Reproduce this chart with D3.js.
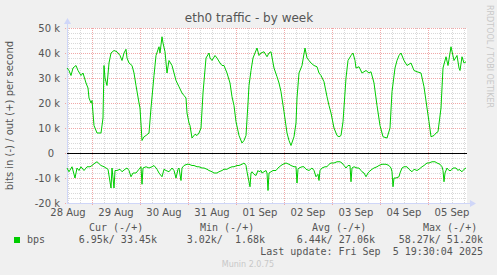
<!DOCTYPE html>
<html>
<head>
<meta charset="utf-8">
<script src="https://cdn.jsdelivr.net/npm/d3@7"></script>
<style>
  body { margin: 0; background: #f0f0f0; }
  text { font-family: "DejaVu Sans", sans-serif; fill: #555; }
  .mono { font-family: "DejaVu Sans Mono", monospace; white-space: pre; }
</style>
</head>
<body>
<div id="chart"></div>
<script>
// hours since graph start (28 Aug 11:30) and bits/s in k
var outHours = [0,1,2,3,4.5,5.5,7,8,9.5,10.5,11,12,12.5,13.5,15,17,18,18.5,19,20,21,22,23.5,25,26.5,27.5,28.5,29.5,30,31,32.5,33.5,34.5,36,36.5,37.5,38.5,39.5,41,42,43.5,44.5,46,46.5,47.5,48,49,50,51,52.5,53.5,54.5,56,57.5,58.5,59.5,60,61,61.5,62.5,64,65,66,67,68,69.5,71,71.5,72.5,74,75,76.5,77.5,78.5,80,81.5,82.5,83.5,84.5,86,87.5,88.5,89.5,90.5,91,92,93,94,95,96,97,98.5,100,101,102,103.5,105,106,107,108.5,110,111,112,113.5,114.5,115,116,117.5,119,120,121,122,123.5,125,126,127,128.5,130,131,132,133.5,135,136,137,138,139.5,140.5,142,143,144,144.5,146,147.5,149.5,151,152,153.5,155,156.5,158,160,161.5,162.5,164,165,166,167,168.5,170,172,173.5,175,177,178.5,180,181,182,183.5,184.5,185.5,187,188,189.5,190.5,192,193.5,195,196,196.5,197.5,198.5,199.5]
var outKbps = [34,33,31,34,35,33,31,32,28,26,22,20,21,11,8,8,14,35,30,27,36,40,41,40.5,39,37,40,41.5,38,36,35,32,27,20,18,5,6.5,7,8,18,31,39,42.5,40,46.5,44,40.5,32,37,35,32,29,26.5,24,23,22,16,12,11,6,7.5,7,8,10,24,38,40,38,37,39,38,36,35,35,32,28,22.5,19,12.5,7,4,5,7,20,27,33,38,40,42,39,40,40.5,38.5,40,40.5,34,30.5,28,24.5,16.5,8,5,3,6.5,12,22,32,35,42,38,37,36,35,34.5,32,31,28.5,22.5,19,16,10,7,6.5,7,12.5,30,37,39,40,37,34,34.5,32,33,32,32.5,28,19,11,6.5,6,10,24.5,34,37,39,40,37,35,36,33,32.5,32,26.5,18,12.5,6.5,7,8,8.5,18,34,38.5,35,42.5,37,39,34,33,38.5,36,36.5]

var inHours = [0,1,2.5,4,5,6,7,8.5,10,11.5,12.5,14,15,17,18.5,19.5,20.5,22,22.5,23.5,24,25,26.5,27.5,29,30,31,32,33,34.5,36,37,37.5,38,39.5,41,42.5,43.5,45,46,47.5,48.5,49.5,51,52.5,53.5,54.5,55.5,56,57,57.5,58.5,60,61,62.5,63.5,65,66,67.5,68.5,70,71,72.5,73.5,75,76,77.5,78.5,80,81,82.5,83.5,85,86,87.5,88.5,89.5,90,91.5,92,92.5,93.5,94.5,95.5,96,97,97.5,98.5,99.5,100,100.5,101,102,103,104.5,105.5,107,108,109.5,111,112,113.5,114.5,115,115.5,116,117.5,118.5,119.5,121,122.5,123.5,124.5,125.5,126,126.5,127.5,129,130,131,132,133.5,135,136.5,137.5,138.5,139.5,140.5,141.5,142,142.5,143.5,145,146,147,147.5,148.5,149.5,150.5,151,152.5,153.5,155,156,157.5,158.5,159.5,161,162,162.5,163,163.5,164.5,166,166.5,167.5,168.5,170,171,172.5,173.5,175,176,177.5,178.5,180,181,182.5,184,185,186.5,187.5,188,188.5,189,190,191,192,193,194.5,195.5,196,197.5,198.5,199.5]
var inKbps = [6,7.5,5.5,10,6,7,5.5,7,5.5,5.5,5,4,3.5,5,5.5,6,6.5,14,6,14,7,7,6.5,7.5,6.5,6,7,9.5,8,8,6.5,5.5,12.5,6,5.5,6,5.5,5,6.5,8,9.5,6.5,7,7.5,6,7,10,6.5,6,11,6,5,4.5,4.5,5,5,5.5,5.5,6,6,6.5,7,7.5,8,8,7.5,7,6.5,6.5,6,5.5,5.5,5,5,4.5,4,5,7.5,13.5,8,7.5,8.5,9,7,7.5,7,8,7.5,7,8,15,8,7.5,7,7,6,5,4.5,4,4.5,5,5.5,5.5,12,6.5,6,5.5,5.5,6.5,7,6,7,9.5,8.5,11,7,6,5.5,5.5,4.5,4,4,3.5,3.5,4,5,6,5,5,11.5,6,5.5,6,6,7,7.5,8,9.5,8,7.5,6.5,6,5.5,5,4.5,4.5,4.5,5,6,7.5,13.5,10,10,9.5,8,6,5.5,5.5,6.5,7.5,6.5,7,6.5,5.5,5,4,4,3.5,3.5,4,4.5,5.5,7,11.5,8,6,7,7,6,6,7,6.5,7.5,6.5,6]

var yTicks = [-20, -10, 0, 10, 20, 30, 40, 50]
var legendHeads = ["Cur (-/+)", "Min (-/+)", "Avg (-/+)", "Max (-/+)"]
var legendVals = ["6.95k/ 33.45k", "3.02k/  1.68k", "6.44k/ 27.06k", "58.27k/ 51.20k"]

var width = 497, height = 275
var plotL = 67, plotR = 467, plotT = 28, plotB = 203

var start = new Date(Date.UTC(2025, 7, 28, 11, 30))
var end = new Date(start.getTime() + 200 * 3600e3)
function toDate(h) { return new Date(start.getTime() + h * 3600e3) }

var x = d3.scaleUtc().domain([start, end]).range([plotL, plotR])
var y = d3.scaleLinear().domain([-20, 50]).range([plotB, plotT])

var svg = d3.select("#chart").append("svg")
    .attr("width", width)
    .attr("height", height)

svg.append("rect").attr("width", width).attr("height", height).attr("fill", "#f0f0f0")
svg.append("rect").attr("x", plotL).attr("y", plotT).attr("width", plotR - plotL).attr("height", plotB - plotT).attr("fill", "#fff")

var grid = svg.append("g").attr("shape-rendering", "crispEdges")

// minor grid
grid.selectAll(".vmin").data(x.ticks(d3.utcHour.every(6)))
    .enter().append("line")
    .attr("x1", function (d) { return Math.round(x(d)) + 0.5 })
    .attr("x2", function (d) { return Math.round(x(d)) + 0.5 })
    .attr("y1", plotT).attr("y2", plotB)
    .attr("stroke", "#d8d8d8").attr("stroke-dasharray", "1,1")
grid.selectAll(".hmin").data(d3.range(-20, 51, 2))
    .enter().append("line")
    .attr("x1", plotL).attr("x2", plotR)
    .attr("y1", function (d) { return Math.round(y(d)) + 0.5 })
    .attr("y2", function (d) { return Math.round(y(d)) + 0.5 })
    .attr("stroke", "#d8d8d8").attr("stroke-dasharray", "1,1")

// major grid
grid.selectAll(".vmaj").data(x.ticks(d3.utcDay.every(1)))
    .enter().append("line")
    .attr("x1", function (d) { return Math.round(x(d)) + 0.5 })
    .attr("x2", function (d) { return Math.round(x(d)) + 0.5 })
    .attr("y1", plotT).attr("y2", plotB + 2)
    .attr("stroke", "#f0a8a8").attr("stroke-dasharray", "1,1")
grid.selectAll(".hmaj").data(yTicks)
    .enter().append("line")
    .attr("x1", plotL - 2).attr("x2", plotR)
    .attr("y1", function (d) { return Math.round(y(d)) + 0.5 })
    .attr("y2", function (d) { return Math.round(y(d)) + 0.5 })
    .attr("stroke", "#f0a8a8").attr("stroke-dasharray", "1,1")

// axes with arrows
grid.append("line").attr("x1", plotL + 0.5).attr("x2", plotL + 0.5).attr("y1", plotB).attr("y2", plotT - 6)
    .attr("stroke", "#cfd6f8")
grid.append("line").attr("x1", plotL).attr("x2", plotR + 4).attr("y1", plotB + 0.5).attr("y2", plotB + 0.5)
    .attr("stroke", "#cfd6f8")
svg.append("path").attr("d", "M" + (plotL - 3) + "," + (plotT - 4) + "L" + (plotL + 0.5) + "," + (plotT - 10) + "L" + (plotL + 4) + "," + (plotT - 4) + "Z")
    .attr("fill", "#cfd6f8")
svg.append("path").attr("d", "M" + (plotR + 3) + "," + (plotB - 3) + "L" + (plotR + 9) + "," + (plotB + 0.5) + "L" + (plotR + 3) + "," + (plotB + 4) + "Z")
    .attr("fill", "#cfd6f8")

// tick labels
svg.selectAll(".ylab").data(yTicks)
    .enter().append("text")
    .attr("x", function (d) { return d == 0 ? 54 : 60 })
    .attr("y", function (d) { return y(d) + 4 })
    .attr("text-anchor", "end")
    .style("font-size", "10px")
    .text(function (d) { return d == 0 ? "0" : d + " k" })

svg.selectAll(".xlab").data(x.ticks(d3.utcDay.every(1)).map(function (d) { return d3.utcHour.offset(d, -12) }).concat([d3.utcHour.offset(d3.utcDay.floor(end), 12)]))
    .enter().append("text")
    .attr("x", function (d) { return x(d) })
    .attr("y", 216)
    .attr("text-anchor", "middle")
    .style("font-size", "10px")
    .text(function (d) { return d3.utcFormat("%d %b")(d) })

// series
var line = d3.line()
    .x(function (d) { return x(toDate(d[0])) })
    .y(function (d) { return y(d[1]) })

svg.append("path")
    .datum(inHours.map(function (h, i) { return [h, -inKbps[i]] }))
    .attr("d", line).attr("fill", "none").attr("stroke", "#00cc00").attr("stroke-width", 1)
svg.append("path")
    .datum(outHours.map(function (h, i) { return [h, outKbps[i]] }))
    .attr("d", line).attr("fill", "none").attr("stroke", "#00cc00").attr("stroke-width", 1)

// zero line
svg.append("line").attr("x1", plotL).attr("x2", plotR).attr("y1", y(0) + 0.5).attr("y2", y(0) + 0.5)
    .attr("stroke", "#000").attr("shape-rendering", "crispEdges")

// title and labels
svg.append("text").attr("x", 249).attr("y", 22).attr("text-anchor", "middle")
    .style("font-size", "12px").text("eth0 traffic - by week")
svg.append("text").attr("transform", "translate(13," + ((plotT + plotB) / 2) + ") rotate(-90)")
    .attr("text-anchor", "middle").style("font-size", "10px")
    .text("bits in (-) / out (+) per second")
svg.append("text").attr("transform", "translate(487,5) rotate(90)")
    .style("font-size", "8px").style("fill", "#c8c8c8")
    .text("RRDTOOL / TOBI OETIKER")

// legend
svg.append("rect").attr("x", 14).attr("y", 237).attr("width", 6).attr("height", 6).attr("fill", "#00cc00")
svg.append("text").attr("class", "mono").attr("x", 27).attr("y", 243).style("font-size", "10px").text("bps")
var headX = [89, 200, 312, 423]
var valEnd = [157, 265, 375, 483]
svg.selectAll(".lh").data(legendHeads).enter().append("text")
    .attr("class", "mono").attr("x", function (d, i) { return headX[i] })
    .attr("y", 231).style("font-size", "10px").text(function (d) { return d })
svg.selectAll(".lv").data(legendVals).enter().append("text")
    .attr("class", "mono").attr("x", function (d, i) { return valEnd[i] })
    .attr("text-anchor", "end")
    .attr("y", 243).style("font-size", "10px").text(function (d) { return d })
svg.append("text").attr("class", "mono").attr("x", 483).attr("y", 255).attr("text-anchor", "end")
    .style("font-size", "10px").text("Last update: Fri Sep  5 19:30:04 2025")
svg.append("text").attr("x", 248).attr("y", 267).attr("text-anchor", "middle")
    .style("font-size", "8px").style("fill", "#c8c8c8").text("Munin 2.0.75")
</script>
</body>
</html>
